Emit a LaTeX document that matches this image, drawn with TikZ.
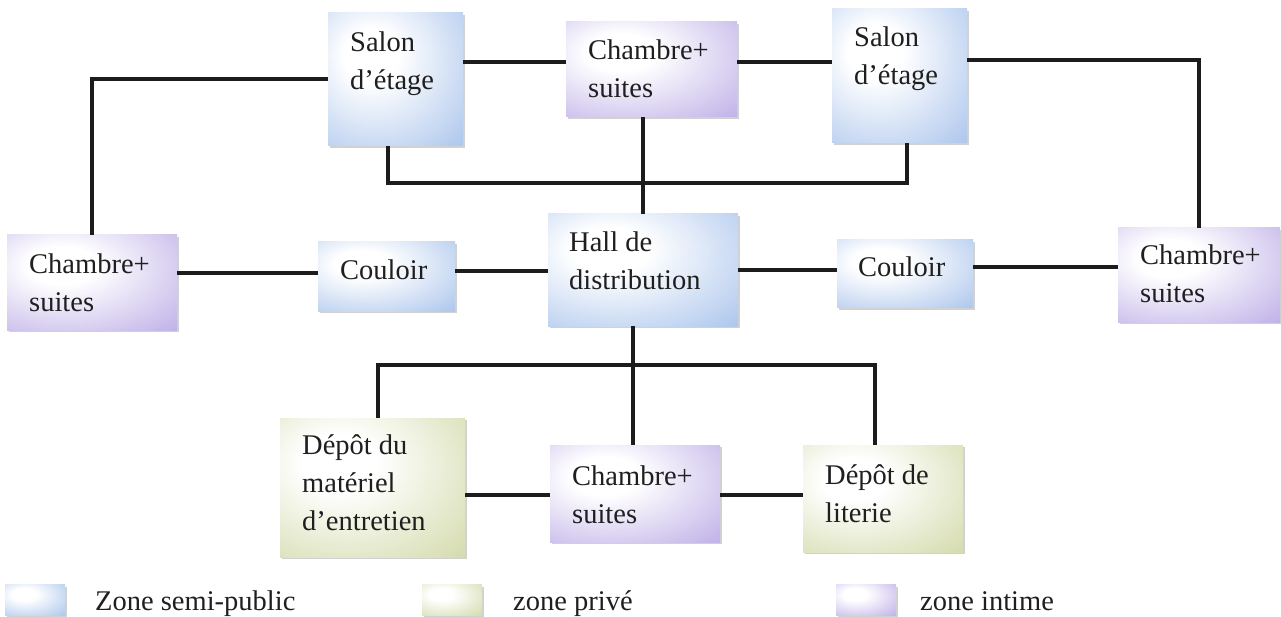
\documentclass[tikz,border=0pt]{standalone}
\usepackage{fontspec}
\setmainfont{Liberation Serif}
\usetikzlibrary{shadows}
\definecolor{zblue}{RGB}{152,184,232}
\definecolor{zpurple}{RGB}{176,158,226}
\definecolor{zgreen}{RGB}{202,210,152}
\definecolor{zline}{RGB}{28,28,28}
\pgfdeclareradialshading{shB}{\pgfpoint{-10bp}{10bp}}{color(0bp)=(white); color(10bp)=(white); color(52bp)=(zblue); color(100bp)=(zblue)}
\pgfdeclareradialshading{shP}{\pgfpoint{-10bp}{10bp}}{color(0bp)=(white); color(10bp)=(white); color(52bp)=(zpurple); color(100bp)=(zpurple)}
\pgfdeclareradialshading{shG}{\pgfpoint{-10bp}{10bp}}{color(0bp)=(white); color(10bp)=(white); color(52bp)=(zgreen); color(100bp)=(zgreen)}
\tikzset{
  zbox/.style={rectangle, inner sep=0pt,
    drop shadow={shadow xshift=1.5pt, shadow yshift=-2pt, opacity=0.3, fill=black!60}},
  bluebox/.style={zbox, shade, shading=shB},
  purplebox/.style={zbox, shade, shading=shP},
  greenbox/.style={zbox, shade, shading=shG},
  boxtext/.style={anchor=base west, inner sep=0pt, align=flush left,
    font=\fontsize{28.5}{38}\selectfont, text=black!88},
  legtext/.style={anchor=base west, inner sep=0pt, font=\fontsize{28.5}{38}\selectfont, text=black!88},
  link/.style={line width=4pt, draw=zline}
}
\begin{document}
\begin{tikzpicture}[x=1pt, y=-1pt]
\useasboundingbox (0,0) rectangle (1281,617);
% boxes
\node[bluebox, minimum width=135pt, minimum height=133pt] (SL) at (395.5,79.5) {};
\node[purplebox, minimum width=171pt, minimum height=95pt] (CT) at (651.5,69.5) {};
\node[bluebox, minimum width=135pt, minimum height=134pt] (SR) at (899.5,76) {};
\node[purplebox, minimum width=170pt, minimum height=95pt] (ChL) at (92,282.5) {};
\node[bluebox, minimum width=137pt, minimum height=69pt] (CL) at (386.5,276.5) {};
\node[bluebox, minimum width=190pt, minimum height=112pt] (H) at (643,270) {};
\node[bluebox, minimum width=136pt, minimum height=68pt] (CR) at (905,274) {};
\node[purplebox, minimum width=162pt, minimum height=94pt] (ChR) at (1199,275) {};
\node[greenbox, minimum width=185pt, minimum height=139pt] (DM) at (372.5,487.5) {};
\node[purplebox, minimum width=170pt, minimum height=97pt] (CB) at (635,493.5) {};
\node[greenbox, minimum width=160pt, minimum height=107pt] (DL) at (883,498.5) {};
% box texts (anchored at last baseline)
\node[boxtext] (SLt) at (350,90) {Salon\\d’étage};
\node[boxtext] (CTt) at (588,98) {Chambre+\\suites};
\node[boxtext] (SRt) at (854,85) {Salon\\d’étage};
\node[boxtext] (ChLt) at (29,312) {Chambre+\\suites};
\node[boxtext] (CLt) at (340,280) {Couloir};
\node[boxtext] (Ht) at (569,290) {Hall de\\distribution};
\node[boxtext] (CRt) at (858,277) {Couloir};
\node[boxtext] (ChRt) at (1140,303) {Chambre+\\suites};
\node[boxtext] (DMt) at (302,530) {Dépôt du\\matériel\\d’entretien};
\node[boxtext] (CBt) at (572,523) {Chambre+\\suites};
\node[boxtext] (DLt) at (825,522) {Dépôt de\\literie};
% legend
\node[bluebox, minimum width=60pt, minimum height=31pt] (LB) at (35,600) {};
\node[legtext] (LBt) at (95,610) {Zone semi-public};
\node[greenbox, minimum width=60pt, minimum height=31pt] (LG) at (452,600) {};
\node[legtext] (LGt) at (513,610) {zone privé};
\node[purplebox, minimum width=60pt, minimum height=31pt] (LP) at (866,600) {};
\node[legtext] (LPt) at (920,610) {zone intime};
% connectors
\draw[link] (SL.west) -| (ChL.north);
\draw[link] (SL.east |- 0,62) -- (CT.west |- 0,62);
\draw[link] (CT.east |- 0,62) -- (SR.west |- 0,62);
\draw[link] (SR.east |- 0,60) -| (ChR.north);
\draw[link] (SL.south -| 388,0) |- (907,183) -- (SR.south -| 907,0);
\draw[link] (CT.south -| H.north) -- (H.north);
\draw[link] (ChL.east |- 0,273) -- (CL.west |- 0,273);
\draw[link] (CL.east |- 0,271) -- (H.west |- 0,271);
\draw[link] (H.east |- 0,270) -- (CR.west |- 0,270);
\draw[link] (CR.east |- 0,267) -- (ChR.west |- 0,267);
\draw[link] (H.south -| 633,0) -- (CB.north -| 633,0);
\draw[link] (DM.north -| 378,0) |- (875,365) -- (DL.north -| 875,0);
\draw[link] (DM.east |- 0,495) -- (CB.west |- 0,495);
\draw[link] (CB.east |- 0,495) -- (DL.west |- 0,495);
\end{tikzpicture}
\end{document}
